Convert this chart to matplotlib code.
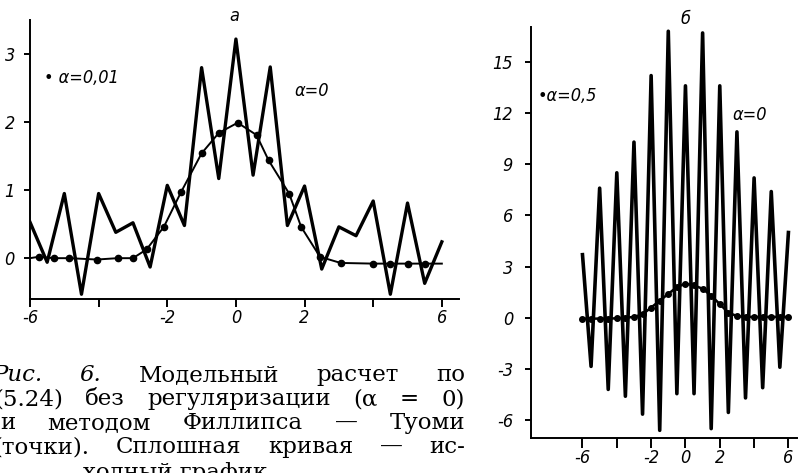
import numpy as np
import matplotlib
matplotlib.use("Agg")
import matplotlib.pyplot as plt
from matplotlib.font_manager import FontProperties

plt.rcParams['axes.unicode_minus'] = False

# x grid of the computed points
x_grid = np.arange(-6, 6.01, 0.5)

# panel a: no regularization (alpha = 0)
a_raw = [0.53, -0.06, 0.95, -0.53, 0.95, 0.38, 0.52, -0.13, 1.07, 0.48, 2.80, 1.17, 3.22,
         1.22, 2.81, 0.48, 1.06, -0.16, 0.46, 0.33, 0.84, -0.53, 0.81, -0.37, 0.24]
# panel a: Phillips-Twomey, alpha = 0.01 (dots on the smooth curve)
a_reg_x = [-6.0, -5.75, -5.3, -4.85, -4.05, -3.45, -3.0, -2.6, -2.1, -1.6, -1.0, -0.5, 0.05,
           0.6, 0.95, 1.55, 1.9, 2.45, 3.05, 4.0, 4.5, 5.0, 5.5, 6.0]
a_reg = [0.0, 0.02, 0.0, 0.0, -0.02, 0.0, 0.0, 0.13, 0.46, 0.97, 1.54, 1.84, 1.99,
         1.81, 1.44, 0.95, 0.46, 0.02, -0.07, -0.08, -0.08, -0.08, -0.08, -0.08]

# panel b: alpha = 0 and alpha = 0.5
b_raw = [3.7, -2.85, 7.6, -4.2, 8.5, -4.6, 10.3, -5.65, 14.2, -6.6, 16.8, -4.45, 13.6,
         -4.45, 16.7, -6.5, 13.6, -5.55, 10.9, -4.7, 8.2, -4.1, 7.4, -2.9, 5.0]
b_reg = [-0.05, -0.05, -0.05, -0.05, -0.03, 0.0, 0.05, 0.2, 0.6, 1.0, 1.4, 1.8, 2.0,
         1.9, 1.7, 1.3, 0.8, 0.3, 0.1, 0.05, 0.05, 0.05, 0.05, 0.05, 0.05]

a_xticks = [-6, -4, -2, 0, 2, 4, 6]
a_xlabels = ['-6', '', '-2', '0', '2', '', '6']
a_yticks = [0, 1, 2, 3]
b_xticks = [-6, -4, -2, 0, 2, 4, 6]
b_xlabels = ['-6', '', '-2', '0', '2', '', '6']
b_yticks = [-6, -3, 0, 3, 6, 9, 12, 15]

caption = [
    ["Рис.", "6.", "Модельный", "расчет", "по"],
    ["(5.24)", "без", "регуляризации", "(α", "=", "0)"],
    ["и", "методом", "Филлипса", "—", "Туоми"],
    ["(точки).", "Сплошная", "кривая", "—", "ис-"],
]
last_line = "ходный график."

W, H = 801, 473
fig = plt.figure(figsize=(W / 100, H / 100), dpi=100)

# narrow italic for the numbers, like the book's drawing lettering
tick_fp = FontProperties(family='DejaVu Sans', style='italic', stretch='condensed', size=13)
tick_font = dict(fontproperties=tick_fp)


def px_axes(x0, x1, ytop, ybot):
    return fig.add_axes([x0 / W, 1 - ybot / H, (x1 - x0) / W, (ybot - ytop) / H])


def style(ax):
    for s in ['top', 'right']:
        ax.spines[s].set_visible(False)
    for s in ['left', 'bottom']:
        ax.spines[s].set_linewidth(1.4)
    ax.tick_params(axis='x', direction='out', length=6, width=1.4, pad=1)
    ax.tick_params(axis='y', direction='out', length=4, width=1.4, pad=7)
    for lab in ax.get_xticklabels() + ax.get_yticklabels():
        lab.set_fontproperties(tick_fp)


# ---- panel a
ax1 = px_axes(30, 459, 20, 299)
ax1.plot(x_grid, a_raw, color='black', lw=2.4)
ax1.plot(a_reg_x, a_reg, color='black', lw=1.4)
ax1.plot(a_reg_x[1:-1], a_reg[1:-1], 'o', color='black', ms=4.5)
ax1.set_xlim(-6, 6.5)
ax1.set_ylim(-0.6, 3.5)
ax1.set_xticks(a_xticks, a_xlabels)
ax1.set_yticks(a_yticks, [str(v) for v in a_yticks])
style(ax1)
ax1.text(-0.05, 3.56, "а", ha='center', va='center', clip_on=False, **tick_font)
ax1.text(-5.6, 2.65, "• α=0,01", ha='left', va='center', **tick_font)
ax1.text(1.7, 2.45, "α=0", ha='left', va='center', **tick_font)

# ---- panel b
ax2 = px_axes(531, 797, 27, 438)
ax2.plot(x_grid, b_raw, color='black', lw=2.6)
ax2.plot(x_grid, b_reg, color='black', lw=1.8)
ax2.plot(x_grid, b_reg, 'o', color='black', ms=4)
ax2.set_xlim(-9, 6.5)
ax2.set_ylim(-7.05, 17.05)
ax2.set_xticks(b_xticks, b_xlabels)
ax2.set_yticks(b_yticks, [str(v) for v in b_yticks])
style(ax2)
ax2.tick_params(axis='x', length=7)
ax2.tick_params(axis='y', pad=9)
ax2.text(0.0, 17.5, "б", ha='center', va='center', clip_on=False, **tick_font)
ax2.text(-8.6, 13.0, "•α=0,5", ha='left', va='center', **tick_font)
ax2.text(2.75, 11.9, "α=0", ha='left', va='center', **tick_font)

# ---- caption, justified lines
cap_font = dict(family='DejaVu Serif', size=16.5)
lefts = [-8, -6, 0, -7]
right = 465
baselines = [381, 405, 429, 453]
renderer = fig.canvas.get_renderer()
for words, left, base in zip(caption, lefts, baselines):
    texts = []
    for i, w in enumerate(words):
        st = 'italic' if (words[0] == "Рис." and i < 2) else 'normal'
        texts.append(fig.text(0, 1 - base / H, w, va='baseline', ha='left', style=st, **cap_font))
    widths = [t.get_window_extent(renderer).width for t in texts]
    gap = (right - left - sum(widths)) / (len(words) - 1)
    pos = left
    for t, wd in zip(texts, widths):
        t.set_x(pos / W)
        pos += wd + gap
fig.text(83 / W, 1 - 479 / H, last_line, va='baseline', ha='left', **cap_font)

fig.savefig("out.png", dpi=100)
